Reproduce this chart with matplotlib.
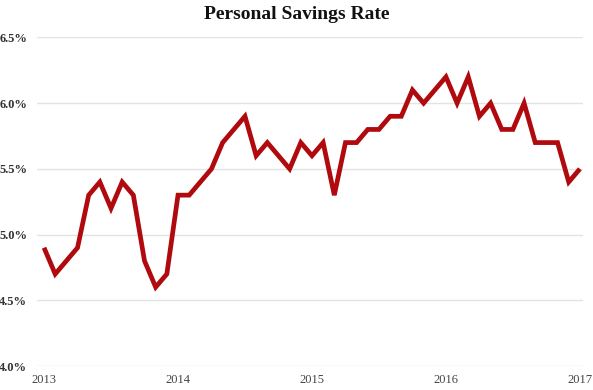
import matplotlib
matplotlib.use("Agg")
import matplotlib.pyplot as plt
from matplotlib.ticker import FuncFormatter

# Monthly personal savings rate, Jan 2013 .. Jan 2017
savings_2013 = [4.9, 4.7, 4.8, 4.9, 5.3, 5.4, 5.2, 5.4, 5.3, 4.8, 4.6, 4.7]
savings_2014 = [5.3, 5.3, 5.4, 5.5, 5.7, 5.8, 5.9, 5.6, 5.7, 5.6, 5.5, 5.7]
savings_2015 = [5.6, 5.7, 5.3, 5.7, 5.7, 5.8, 5.8, 5.9, 5.9, 6.1, 6.0, 6.1]
savings_2016 = [6.2, 6.0, 6.2, 5.9, 6.0, 5.8, 5.8, 6.0, 5.7, 5.7, 5.7, 5.4]
savings_2017 = [5.5]
year_labels = ["2013", "2014", "2015", "2016", "2017"]
y_ticks = [4.0, 4.5, 5.0, 5.5, 6.0, 6.5]

values = savings_2013 + savings_2014 + savings_2015 + savings_2016 + savings_2017
months = list(range(len(values)))

fig = plt.figure(figsize=(5.93, 3.90), dpi=100)
ax = fig.add_axes([0.0624, 0.0615, 0.983 - 0.0624, 0.904 - 0.0615])

ax.plot(months, values, color="#b00a0e", linewidth=3.4, solid_joinstyle="miter",
        solid_capstyle="butt", zorder=3)

ax.set_ylim(4.0, 6.5)
ax.set_yticks(y_ticks)
ax.yaxis.set_major_formatter(FuncFormatter(lambda v, p: f"{v:.1f}%"))
ax.set_xlim(-0.63, 48.27)
ax.set_xticks([12 * i for i in range(len(year_labels))])
ax.set_xticklabels(year_labels)

ax.grid(axis="y", color="#e3e3e3", linewidth=1.0, zorder=0)
ax.grid(axis="x", visible=False)
for s in ax.spines.values():
    s.set_visible(False)
ax.tick_params(axis="both", length=0)
ax.tick_params(axis="y", pad=7)
ax.tick_params(axis="x", pad=6)
for lab in ax.get_yticklabels():
    lab.set_fontfamily("Liberation Serif")
    lab.set_fontweight("bold")
    lab.set_fontsize(9)
    lab.set_color("#333333")
for lab in ax.get_xticklabels():
    lab.set_fontfamily("Liberation Serif")
    lab.set_fontsize(9)
    lab.set_color("#444444")

fig.text(0.5, 0.962, "Personal Savings Rate", ha="center", va="center",
         fontfamily="Liberation Serif", fontweight="bold", fontsize=14, color="#111111")

fig.savefig("out.png", dpi=100)
